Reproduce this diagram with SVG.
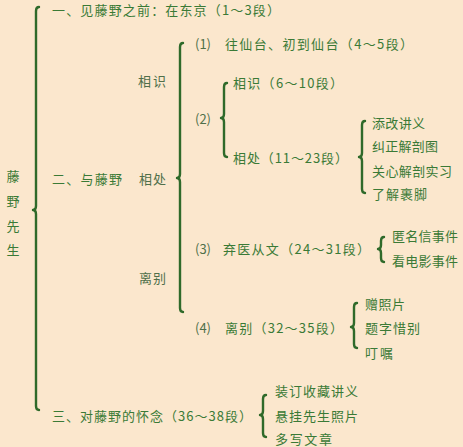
<svg xmlns="http://www.w3.org/2000/svg" width="463" height="447" viewBox="0 0 463 447">
<style>
.t{font-family:"Noto Sans CJK SC","Noto Sans",sans-serif;font-size:13px;fill:#3a7a36;dominant-baseline:central}
.n{fill:#4f6f4a}
.b{fill:none;stroke:#2f6a2a;stroke-width:2.4;stroke-linecap:round;stroke-linejoin:round}
</style>
<rect width="463" height="447" fill="#fbe7cd"/>
<g id="connectors">
<path class="b" d="M39,7 Q36,7 36,11 L36,206 Q36,210 33,210 Q36,210 36,214 L36,406 Q36,410 39,410"/>
<path class="b" d="M183,43 Q180,43 180,47 L180,174 Q180,178 177,178 Q180,178 180,182 L180,308 Q180,312 183,312"/>
<path class="b" d="M227,83 Q224,83 224,87 L224,114 Q224,118 221,118 Q224,118 224,122 L224,153 Q224,157 227,157"/>
<path class="b" d="M365,121 Q362,121 362,125 L362,153 Q362,157 359,157 Q362,157 362,161 L362,189 Q362,193 365,193"/>
<path class="b" d="M384,237 Q381,237 381,241 L381,245 Q381,249 378,249 Q381,249 381,253 L381,258 Q381,262 384,262"/>
<path class="b" d="M357,303 Q354,303 354,307 L354,323 Q354,327 351,327 Q354,327 354,331 L354,344 Q354,348 357,348"/>
<path class="b" d="M266,395 Q263,395 263,399 L263,411 Q263,415 260,415 Q263,415 263,419 L263,433 Q263,437 266,437"/>
</g>
<g id="root"><text class="t" x="13" y="175" text-anchor="middle">藤</text><text class="t" x="13" y="200" text-anchor="middle">野</text><text class="t" x="13" y="225" text-anchor="middle">先</text><text class="t" x="13" y="249" text-anchor="middle">生</text></g>
<g id="part1"><text class="t" x="52" y="9" textLength="228" lengthAdjust="spacing">一、见藤野之前：在东京（1～3段）</text></g>
<g id="part2"><text class="t" x="52" y="178" textLength="70" lengthAdjust="spacing">二、与藤野</text></g>
<g id="part3"><text class="t" x="52" y="415" textLength="200" lengthAdjust="spacing">三、对藤野的怀念（36～38段）</text></g>
<g id="xiangshi"><text class="t n" x="138" y="80" textLength="28" lengthAdjust="spacing">相识</text></g>
<g id="xiangchu"><text class="t n" x="139" y="178" textLength="27" lengthAdjust="spacing">相处</text></g>
<g id="libie"><text class="t n" x="139" y="277" textLength="27" lengthAdjust="spacing">离别</text></g>
<g id="s1"><text class="t n" x="195" y="43" font-size="11">(1)</text><text class="t" x="225" y="43" textLength="188" lengthAdjust="spacing">往仙台、初到仙台（4～5段）</text></g>
<g id="s2"><text class="t n" x="195" y="118" font-size="11">(2)</text></g>
<g id="s2a"><text class="t" x="233" y="82" textLength="110" lengthAdjust="spacing">相识（6～10段）</text></g>
<g id="s2b"><text class="t" x="233" y="157" textLength="115" lengthAdjust="spacing">相处（11～23段）</text></g>
<g id="s2b-items"><text class="t" x="372" y="122" textLength="53" lengthAdjust="spacing">添改讲义</text><text class="t" x="372" y="145" textLength="66" lengthAdjust="spacing">纠正解剖图</text><text class="t" x="372" y="170" textLength="80" lengthAdjust="spacing">关心解剖实习</text><text class="t" x="372" y="193" textLength="55" lengthAdjust="spacing">了解裹脚</text></g>
<g id="s3"><text class="t n" x="195" y="248" font-size="11">(3)</text><text class="t" x="223" y="248" textLength="147" lengthAdjust="spacing">弃医从文（24～31段）</text></g>
<g id="s3-items"><text class="t" x="392" y="235" textLength="66" lengthAdjust="spacing">匿名信事件</text><text class="t" x="392" y="260" textLength="66" lengthAdjust="spacing">看电影事件</text></g>
<g id="s4"><text class="t n" x="195" y="327" font-size="11">(4)</text><text class="t" x="225" y="327" textLength="118" lengthAdjust="spacing">离别（32～35段）</text></g>
<g id="s4-items"><text class="t" x="365" y="303" textLength="40" lengthAdjust="spacing">赠照片</text><text class="t" x="365" y="327" textLength="55" lengthAdjust="spacing">题字惜别</text><text class="t" x="365" y="352" textLength="28" lengthAdjust="spacing">叮嘱</text></g>
<g id="p3-items"><text class="t" x="275" y="390" textLength="83" lengthAdjust="spacing">装订收藏讲义</text><text class="t" x="275" y="415" textLength="83" lengthAdjust="spacing">悬挂先生照片</text><text class="t" x="275" y="438" textLength="57" lengthAdjust="spacing">多写文章</text></g>
</svg>
